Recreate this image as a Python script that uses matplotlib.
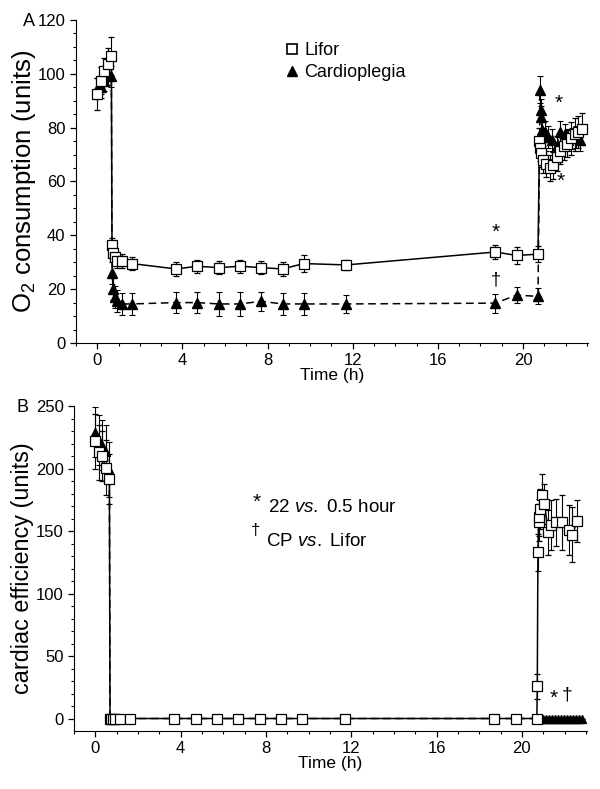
import numpy as np
import matplotlib
matplotlib.use("Agg")
import matplotlib.pyplot as plt
from matplotlib.lines import Line2D

plt.rcParams['font.family'] = ['Liberation Sans', 'DejaVu Sans']
plt.rcParams['mathtext.fontset'] = 'custom'
plt.rcParams['mathtext.rm'] = 'Liberation Sans'
plt.rcParams['mathtext.it'] = 'Liberation Sans:italic'

# ---- data ----
# time points (h)
t_pre = [0.0, 0.16, 0.33, 0.5, 0.66]
t_arrest = [0.69, 0.75, 0.82, 0.92, 1.17, 1.63,
            3.7, 4.7, 5.7, 6.7, 7.7, 8.7, 9.7, 11.7, 18.7, 19.7, 20.7]

# panel A: O2 consumption
lifor_pre_A = [92.5, 97.5, 101, 103.5, 106.5]
lifor_pre_A_err = [6, 5, 5, 6, 7]
lifor_arrest_A = [36.5, 33.5, 32, 30.5, 30.5, 29.5,
                  27.5, 28.5, 28, 28.5, 28, 27.5, 29.5, 29, 33.8, 32.5, 33]
lifor_arrest_A_err = [2.5, 2.5, 2.5, 2.5, 2.5, 2.5,
                      2.5, 2.5, 2.5, 2.5, 2.5, 2.5, 3, 2, 2.5, 3, 3]
lifor_rec_t_A = [20.77, 20.8, 20.85, 20.92, 21.08, 21.25, 21.42, 21.58,
                 21.75, 21.92, 22.08, 22.25, 22.42, 22.58, 22.75]
lifor_rec_A = [75, 72.5, 70.5, 68, 66.5, 65, 66, 69, 71.5, 73, 74, 76, 77.5, 78.5, 79.5]
lifor_rec_A_err = [5, 5, 5, 5, 5, 5, 5, 5, 5, 5, 5, 6, 6, 6, 6]

cp_pre_A = [94.5, 95, 97.5, 100, 99]
cp_pre_A_err = [4, 4, 4, 4, 4]
cp_arrest_A = [26, 20, 17, 15.5, 14.5, 14.5,
               15, 15, 14.5, 14.5, 15.5, 14.5, 14.5, 14.5, 14.8, 17.8, 17.3]
cp_arrest_A_err = [4, 4, 4, 4, 4, 4,
                   4, 4, 4.5, 4.5, 3.5, 4, 4, 3.5, 3.5, 3, 3]
cp_rec_t_A = [20.8, 20.82, 20.85, 20.9, 21.03, 21.19, 21.35, 21.58,
              21.74, 21.97, 22.13, 22.28, 22.5, 22.68]
cp_rec_A = [94, 86.5, 84, 79, 78.5, 76.5, 75.5, 73, 78.5, 77.5, 75.5, 76, 76.5, 75.5]
cp_rec_A_err = [5, 4, 4, 4, 4, 4, 4, 4, 4, 4, 4, 4, 4, 4]

# panel B: cardiac efficiency
lifor_pre_B = [222, 213, 210, 200.5, 191.5]
lifor_pre_B_err = [22, 22, 20, 22, 20]
lifor_arrest_B = [0] * len(t_arrest)
lifor_rec_t_B = [20.72, 20.75, 20.78, 20.82, 20.87, 20.93, 21.05, 21.24,
                 21.37, 21.6, 21.9, 22.2, 22.37, 22.58]
lifor_rec_B = [26, 133, 157, 161, 168, 179, 172, 149, 155, 157, 157, 151, 147, 158]
lifor_rec_B_err = [10, 15, 15, 15, 16, 17, 16, 18, 20, 19, 22, 20, 22, 17]

cp_pre_B = [229, 223, 218.5, 213, 199.5]
cp_pre_B_err = [20, 20, 20, 22, 22]
cp_arrest_B = [0] * len(t_arrest)
cp_rec_t_B = [20.84, 20.98, 21.12, 21.26, 21.4, 21.54, 21.68, 21.82,
              21.96, 22.1, 22.24, 22.38, 22.52, 22.66, 22.8]
cp_rec_B = [0] * len(cp_rec_t_B)

# ---- figure ----
fig = plt.figure(figsize=(6.0, 7.89), dpi=100)
axA = fig.add_axes([0.1267, 0.5653, 0.8533, 0.4094])
axB = fig.add_axes([0.1233, 0.0735, 0.855, 0.4119])

sq_style = dict(fmt='s-', color='k', mfc='white', mec='k', ms=6.5, mew=0.9,
                lw=1.1, elinewidth=0.8, capsize=2, capthick=0.8)
tri_style = dict(fmt='^--', color='k', mfc='k', mec='k', ms=6.5,
                 lw=1.1, elinewidth=0.8, capsize=2, capthick=0.8, dashes=(5, 3))


def series(pre, arrest, rec_t, rec):
    # join pre-arrest, arrest and recovery phases in time order
    t = t_pre + t_arrest + rec_t
    y = pre + arrest + rec
    return np.array(t), np.array(y)


# Panel A
t, y = series(cp_pre_A, cp_arrest_A, cp_rec_t_A, cp_rec_A)
e = cp_pre_A_err + cp_arrest_A_err + cp_rec_A_err
axA.errorbar(t, y, yerr=e, zorder=2, **tri_style)
t, y = series(lifor_pre_A, lifor_arrest_A, lifor_rec_t_A, lifor_rec_A)
e = lifor_pre_A_err + lifor_arrest_A_err + lifor_rec_A_err
axA.errorbar(t, y, yerr=e, zorder=3, **sq_style)

# Panel B
t, y = series(cp_pre_B, cp_arrest_B, cp_rec_t_B, cp_rec_B)
e = cp_pre_B_err + [0] * len(t_arrest) + [0] * len(cp_rec_t_B)
tri_b = dict(tri_style, ms=5.5)
axB.errorbar(t, y, yerr=e, zorder=2, **tri_b)
t, y = series(lifor_pre_B, lifor_arrest_B, lifor_rec_t_B, lifor_rec_B)
e = lifor_pre_B_err + [0] * len(t_arrest) + lifor_rec_B_err
axB.errorbar(t, y, yerr=e, zorder=3, **sq_style)

for ax in (axA, axB):
    ax.spines['top'].set_visible(False)
    ax.spines['right'].set_visible(False)
    ax.set_xlim(-1, 23.05)
    ax.set_xticks([0, 4, 8, 12, 16, 20])
    ax.set_xticks(np.arange(-1, 24, 1), minor=True)
    ax.tick_params(which='major', direction='out', length=4, width=0.9, labelsize=12)
    ax.tick_params(which='minor', direction='out', length=2.5, width=0.8)
    ax.set_xlabel('Time (h)', fontsize=12.5, labelpad=0)

axA.set_ylim(0, 120)
axA.set_yticks(np.arange(0, 121, 20))
axA.set_yticks(np.arange(0, 121, 5), minor=True)
axA.set_ylabel('O$_2$ consumption (units)', fontsize=18.5, labelpad=0)

axB.set_ylim(-10, 250)
axB.set_yticks(np.arange(0, 251, 50))
axB.set_yticks(np.arange(0, 251, 10), minor=True)
axB.set_ylabel('cardiac efficiency (units)', fontsize=16.8, labelpad=1)

# panel letters
fig.text(29 / 600, 1 - 21 / 789, 'A', fontsize=13, ha='center', va='center')
fig.text(23 / 600, 1 - 407 / 789, 'B', fontsize=13, ha='center', va='center')

# legend
handles = [Line2D([], [], ls='none', marker='s', mfc='white', mec='k', ms=6.5, mew=1.2),
           Line2D([], [], ls='none', marker='^', mfc='k', mec='k', ms=7.5)]
axA.legend(handles, ['Lifor', 'Cardioplegia'], loc='upper left',
           bbox_to_anchor=(0.39, 0.96), frameon=False, fontsize=13,
           handlelength=0.8, handletextpad=0.3, labelspacing=0.3, borderpad=0)

# significance marks, panel A
axA.text(18.7, 41, '*', fontsize=15, ha='center', va='center')
axA.text(18.7, 23.5, '\u2020', fontsize=13, ha='center', va='center')
axA.text(21.65, 89, '*', fontsize=15, ha='center', va='center')
axA.text(21.75, 60, '*', fontsize=15, ha='center', va='center')

# key and marks, panel B
axB.text(21.5, 16, '*', fontsize=15, ha='center', va='center')
axB.text(22.1, 19, '\u2020', fontsize=14, ha='center', va='center')
fig.text(257 / 600, 1 - 502 / 789, '*', fontsize=15, ha='center', va='center')
fig.text(268 / 600, 1 - 508 / 789, r'22 $\it{vs.}$ 0.5 hour', fontsize=13.5,
         ha='left', va='center')
fig.text(256 / 600, 1 - 530 / 789, '\u2020', fontsize=12, ha='center', va='center')
fig.text(266 / 600, 1 - 542 / 789, r'CP $\it{vs.}$ Lifor', fontsize=13.5,
         ha='left', va='center')

fig.savefig('out.png', dpi=100)
